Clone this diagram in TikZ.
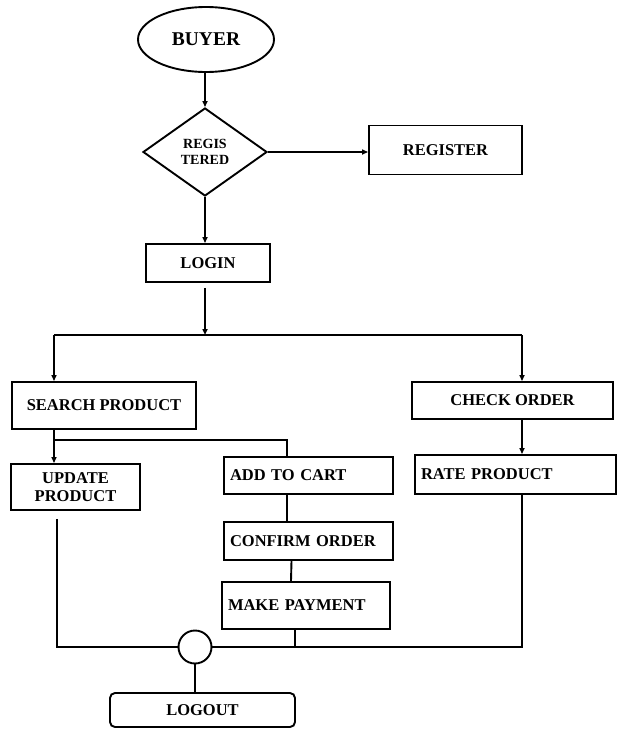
\documentclass[tikz,border=0pt]{standalone}
\usepackage{fontspec}
\setmainfont{Liberation Serif}
\usetikzlibrary{arrows.meta,shapes.geometric}

\begin{document}
\begin{tikzpicture}[x=1pt, y=1pt, line width=1.9pt,
	box/.style={draw, rectangle, inner sep=0pt, align=center, font=\fontsize{16.5}{18.5}\selectfont\bfseries},
	leftbox/.style={box, align=left, inner xsep=6pt},
	arr/.style={-{Triangle[length=6pt, width=5pt]}}]
			%%%%% START %%%%%
			\useasboundingbox (0, 0) rectangle (616, -731);
			
			\node[draw, ellipse, inner sep=0pt, minimum width=136pt, minimum height=65pt, font=\fontsize{19.5}{21}\selectfont\bfseries] (buyer) at (206, -39.5) {BUYER};
			\node[draw, diamond, inner sep=0pt, minimum width=124pt, minimum height=88pt, align=center, font=\fontsize{14}{16.5}\selectfont\bfseries] (regd) at (205, -152) {REGIS\\TERED};
			\node[box, minimum width=153pt, minimum height=49pt] (register) at (445.5, -150) {REGISTER};
			\node[box, minimum width=124pt, minimum height=38pt] (login) at (208, -263) {LOGIN};
			
			\coordinate (split) at (205, -335);
			\coordinate (splitl) at (54, -335);
			\coordinate (splitr) at (522, -335);
			
			\node[box, minimum width=184pt, minimum height=47pt] (search) at (104, -405.5) {SEARCH PRODUCT};
			\node[box, minimum width=201pt, minimum height=37pt] (check) at (512.5, -400.5) {CHECK ORDER};
			
			\coordinate (forkl) at (54, -440);
			\coordinate (forkr) at (287, -440);
			
			\node[box, minimum width=129pt, minimum height=46pt] (update) at (75.5, -487) {UPDATE\\PRODUCT};
			\node[leftbox, text width=157pt, minimum height=37pt] (addcart) at (308.5, -475.5) {ADD TO CART};
			\node[leftbox, text width=157pt, minimum height=38pt] (confirm) at (308.5, -541) {CONFIRM ORDER};
			\node[leftbox, text width=156pt, minimum height=47pt] (payment) at (306, -605.5) {MAKE PAYMENT};
			\node[leftbox, text width=189pt, minimum height=39pt] (rate) at (515.5, -474.5) {RATE PRODUCT};
			
			\node[draw, circle, inner sep=0pt, minimum size=33pt] (merge) at (195, -647) {};
			\node[box, rounded corners=5pt, minimum width=185pt, minimum height=34pt] (logout) at (202.5, -710) {LOGOUT};
			
			\coordinate (joinl) at (57, -647);
			\coordinate (joinr) at (522, -647);
			\coordinate (joinp) at (295, -647);
			
			% top part
			\draw[arr] (regd.north |- buyer.south) -- (regd.north);
			\draw[arr] (regd.east) -- (regd.east -| register.west);
			\draw[arr] (regd.south) -- (regd.south |- login.north);
			\draw[arr, shorten <=5pt] (split |- login.south) -- (split);
			
			\draw (splitl) -- (splitr);
			\draw[arr] (splitl) -- (splitl |- search.north);
			\draw[arr] (splitr) -- (splitr |- check.north);
			
			% buyer side
			\draw (forkl |- search.south) -- (forkl) -- (forkr) -- (forkr |- addcart.north);
			\draw[arr] (forkl) -- (forkl |- update.north);
			\draw (forkr |- addcart.south) -- (forkr |- confirm.north);
			\draw ([xshift=-17pt]confirm.south) -- ([xshift=-15pt]payment.north);
			\draw[arr] (joinr |- check.south) -- (joinr |- rate.north);
			
			% join to logout
			\draw[shorten <=8pt] (joinl |- update.south) -- (joinl) -- (merge.west);
			\draw (merge.east) -- (joinr) -- (joinr |- rate.south);
			\draw (joinp |- payment.south) -- (joinp);
			\draw (merge.south) -- (merge.south |- logout.north);
			
			%%%%% END %%%%%
\end{tikzpicture}
\end{document}
